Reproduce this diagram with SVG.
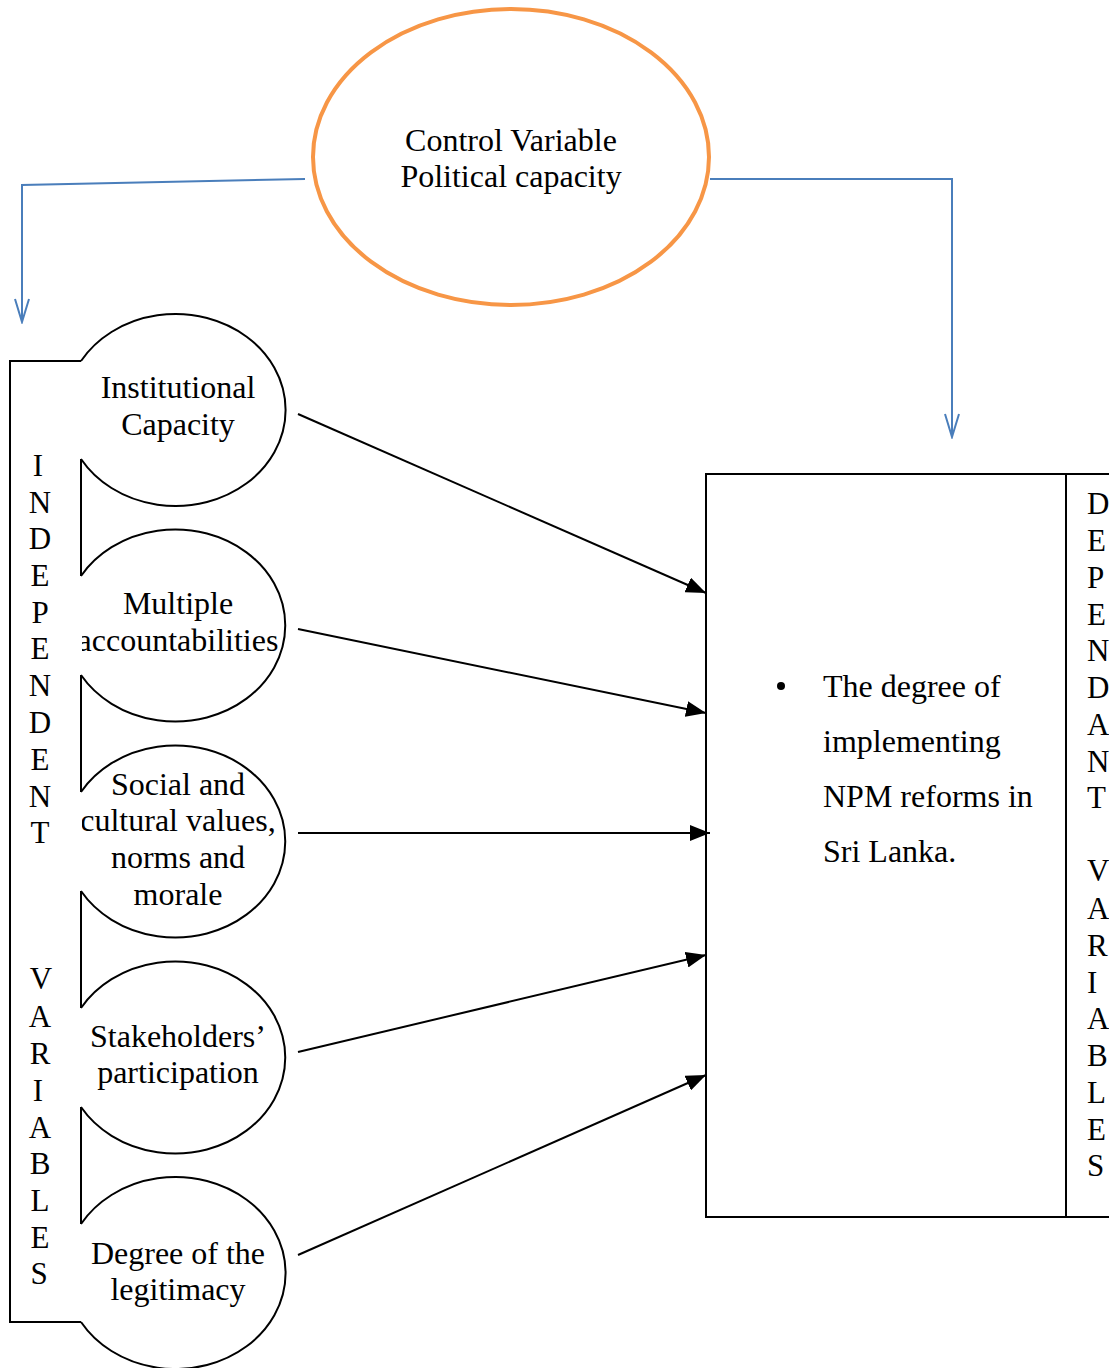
<svg xmlns="http://www.w3.org/2000/svg" width="1109" height="1368" viewBox="0 0 1109 1368">
<style>
text{font-family:"Liberation Serif","Times New Roman",serif;font-size:32px;fill:#000}
.c{text-anchor:middle}
.v{font-size:31px}
.blk{fill:none;stroke:#000;stroke-width:2}
.blue{fill:none;stroke:#4A7EBB;stroke-width:2}
.arr{fill:none;stroke:#000;stroke-width:2}
</style>
<defs>
<marker id="ah" viewBox="0 0 20 16" refX="20" refY="8" markerWidth="20" markerHeight="16" markerUnits="userSpaceOnUse" orient="auto">
<path d="M0,0 L20,8 L0,16 z" fill="#000"/>
</marker>
<marker id="oh" viewBox="0 0 26 16" refX="24" refY="8" markerWidth="26" markerHeight="16" markerUnits="userSpaceOnUse" orient="auto">
<path d="M1,1 L24,8 L1,15" fill="none" stroke="#4A7EBB" stroke-width="2"/>
</marker>
<clipPath id="cl"><rect x="82" y="300" width="230" height="1068"/></clipPath>
</defs>
<rect width="1109" height="1368" fill="#fff"/>

<g id="control">
<ellipse cx="511" cy="157" rx="198" ry="148" fill="none" stroke="#F79646" stroke-width="4"/>
<text class="c" x="511" y="151">Control Variable</text>
<text class="c" x="511" y="187">Political capacity</text>
</g>

<g id="independent">
<path class="blk" d="M81,361 L10,361 L10,1322 L81,1322"/>
<path class="blk" d="M81,459 L81,576 M81,675 L81,792 M81,891 L81,1008 M81,1107 L81,1224"/>
<g>
<text class="c v" x="38" y="476">I</text>
<text class="c v" x="40" y="513">N</text>
<text class="c v" x="40" y="549">D</text>
<text class="c v" x="40" y="586">E</text>
<text class="c v" x="40" y="623">P</text>
<text class="c v" x="40" y="659">E</text>
<text class="c v" x="40" y="696">N</text>
<text class="c v" x="40" y="733">D</text>
<text class="c v" x="40" y="770">E</text>
<text class="c v" x="40" y="807">N</text>
<text class="c v" x="40" y="843">T</text>
<text class="c v" x="41" y="989">V</text>
<text class="c v" x="40" y="1027">A</text>
<text class="c v" x="40" y="1064">R</text>
<text class="c v" x="38" y="1101">I</text>
<text class="c v" x="40" y="1138">A</text>
<text class="c v" x="40" y="1174">B</text>
<text class="c v" x="40" y="1211">L</text>
<text class="c v" x="40" y="1248">E</text>
<text class="c v" x="39" y="1284">S</text>
</g>
</g>

<g id="n1">
<path class="blk" d="M81,361 A110 96 0 1 1 81,459"/>
<text class="c" x="178" y="398">Institutional</text>
<text class="c" x="178" y="435">Capacity</text>
</g>
<g id="n2">
<path class="blk" d="M81,576 A110 96 0 1 1 81,675"/>
<g clip-path="url(#cl)">
<text class="c" x="178" y="614">Multiple</text>
<text class="c" x="178" y="651">accountabilities</text>
</g>
</g>
<g id="n3">
<path class="blk" d="M81,792 A110 96 0 1 1 81,891"/>
<g clip-path="url(#cl)">
<text class="c" x="178" y="795">Social and</text>
<text class="c" x="178" y="831">cultural values,</text>
<text class="c" x="178" y="868">norms and</text>
<text class="c" x="178" y="905">morale</text>
</g>
</g>
<g id="n4">
<path class="blk" d="M81,1008 A110 96 0 1 1 81,1107"/>
<text class="c" x="178" y="1047">Stakeholders’</text>
<text class="c" x="178" y="1083">participation</text>
</g>
<g id="n5">
<path class="blk" d="M81,1224 A110 96 0 1 1 81,1322"/>
<text class="c" x="178" y="1264">Degree of the</text>
<text class="c" x="178" y="1300">legitimacy</text>
</g>

<g id="dependent">
<rect x="706" y="474" width="420" height="743" fill="none" stroke="#000" stroke-width="2"/>
<line x1="1066" y1="474" x2="1066" y2="1217" stroke="#000" stroke-width="2"/>
<circle cx="781" cy="686" r="4" fill="#000"/>
<text x="823" y="697">The degree of</text>
<text x="823" y="752">implementing</text>
<text x="823" y="807">NPM reforms in</text>
<text x="823" y="862">Sri Lanka.</text>
<g>
<text class="v" x="1087" y="514">D</text>
<text class="v" x="1087" y="551">E</text>
<text class="v" x="1087" y="588">P</text>
<text class="v" x="1087" y="625">E</text>
<text class="v" x="1087" y="661">N</text>
<text class="v" x="1087" y="698">D</text>
<text class="v" x="1087" y="735">A</text>
<text class="v" x="1087" y="772">N</text>
<text class="v" x="1087" y="808">T</text>
<text class="v" x="1087" y="881">V</text>
<text class="v" x="1087" y="919">A</text>
<text class="v" x="1087" y="956">R</text>
<text class="v" x="1087" y="993">I</text>
<text class="v" x="1087" y="1029">A</text>
<text class="v" x="1087" y="1066">B</text>
<text class="v" x="1087" y="1103">L</text>
<text class="v" x="1087" y="1140">E</text>
<text class="v" x="1087" y="1176">S</text>
</g>
</g>

<g id="connectors">
<path class="blue" d="M305,179 L22,185 L22,322" marker-end="url(#oh)"/>
<path class="blue" d="M710,179 L952,179 L952,437" marker-end="url(#oh)"/>
<line class="arr" x1="298" y1="414" x2="706" y2="593" marker-end="url(#ah)"/>
<line class="arr" x1="298" y1="629" x2="706" y2="713" marker-end="url(#ah)"/>
<line class="arr" x1="298" y1="833" x2="710" y2="833" marker-end="url(#ah)"/>
<line class="arr" x1="298" y1="1052" x2="706" y2="955" marker-end="url(#ah)"/>
<line class="arr" x1="298" y1="1255" x2="706" y2="1075" marker-end="url(#ah)"/>
</g>
</svg>
